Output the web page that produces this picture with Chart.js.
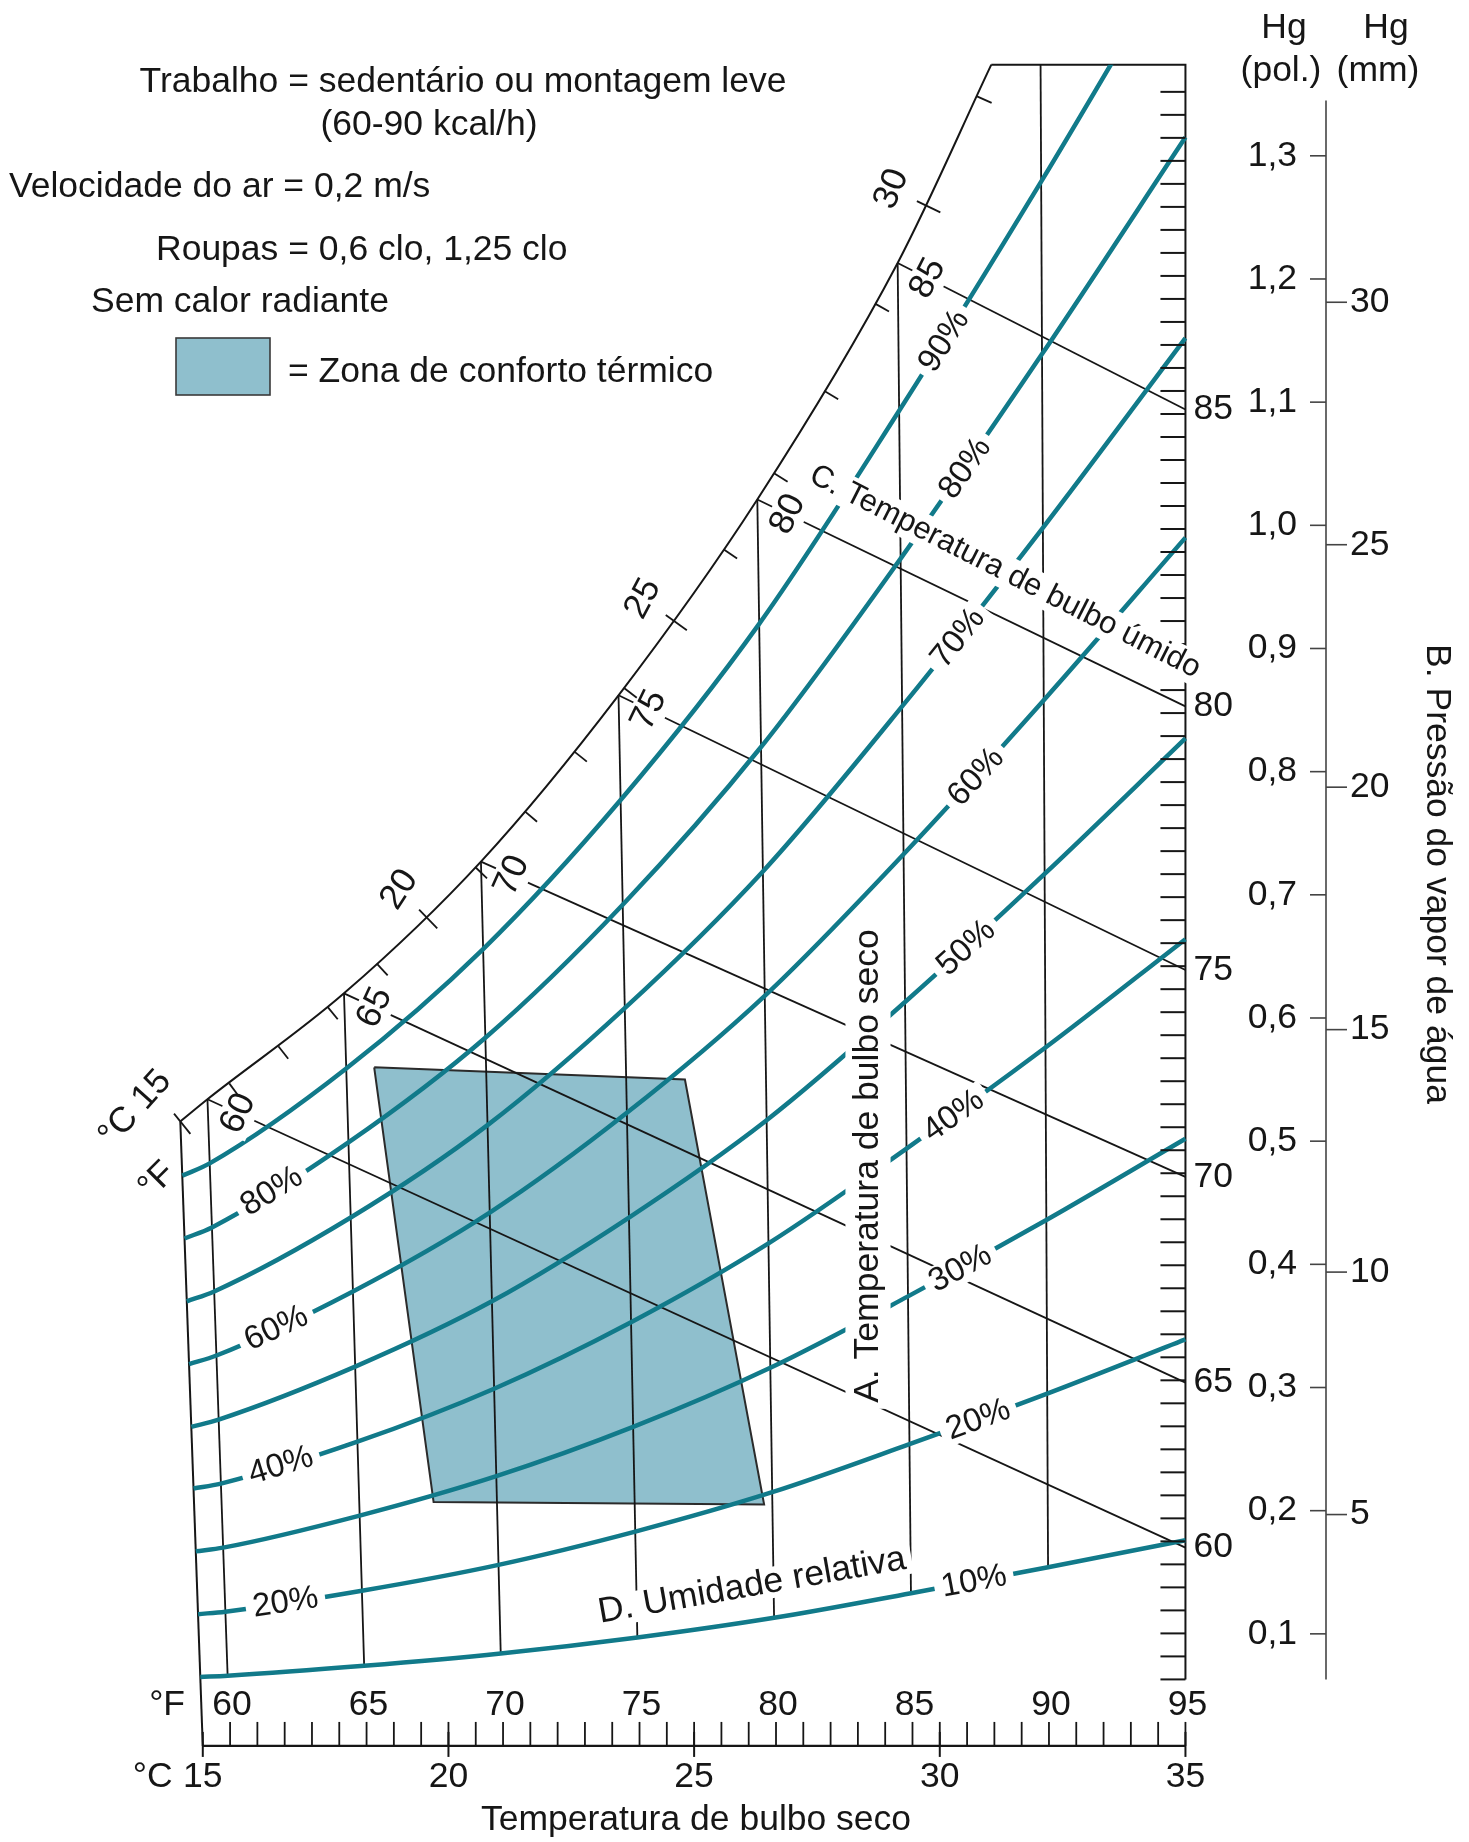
<!DOCTYPE html>
<html lang="pt-BR">
<head>
<meta charset="utf-8">
<title>Zona de conforto térmico</title>
<script src="https://cdn.jsdelivr.net/npm/chart.js@4.4.1/dist/chart.umd.min.js"></script>
<style>
  html, body { margin: 0; padding: 0; background: #ffffff; }
  #wrap { position: relative; width: 1469px; height: 1842px; }
</style>
</head>
<body>
<div id="wrap"><canvas id="chart"></canvas></div>
<script>
// ---------------------------------------------------------------------------
// Data
// ---------------------------------------------------------------------------

// Dry-bulb temperatures (°F) at which the humidity curves are tabulated
const dryBulbF = [59, 60, 65, 70, 75, 80, 85, 90, 95];

// Relative-humidity curves: water-vapour pressure (in Hg) at each dry-bulb temperature
const rh90 = [0.472, 0.482, 0.559, 0.656, 0.777, 0.920, 1.093, 1.279, 1.477];
const rh80 = [0.421, 0.430, 0.499, 0.584, 0.692, 0.820, 0.973, 1.139, 1.315];
const rh70 = [0.370, 0.378, 0.438, 0.513, 0.608, 0.719, 0.853, 0.998, 1.152];
const rh60 = [0.319, 0.326, 0.378, 0.442, 0.523, 0.618, 0.733, 0.858, 0.990];
const rh50 = [0.268, 0.274, 0.317, 0.370, 0.438, 0.517, 0.613, 0.717, 0.827];
const rh40 = [0.218, 0.222, 0.256, 0.299, 0.353, 0.417, 0.494, 0.576, 0.664];
const rh30 = [0.167, 0.170, 0.196, 0.228, 0.268, 0.316, 0.374, 0.436, 0.502];
const rh20 = [0.116, 0.118, 0.135, 0.156, 0.183, 0.215, 0.254, 0.295, 0.339];
const rh10 = [0.065, 0.066, 0.074, 0.084, 0.097, 0.113, 0.133, 0.154, 0.176];
const rhLevels = [90, 80, 70, 60, 50, 40, 30, 20, 10];
const rhCurves = [rh90, rh80, rh70, rh60, rh50, rh40, rh30, rh20, rh10];

// Saturation (100 %) curve, up to where it meets the top edge of the chart
const saturationF = [59, 60, 65, 70, 75, 80, 85, 88.3];
const saturationInHg = [0.516, 0.534, 0.620, 0.727, 0.862, 1.021, 1.213, 1.374];

// Dry-bulb grid lines (°F)
const dryBulbLinesF = [60, 65, 70, 75, 80, 85, 90];

// Wet-bulb lines (°F): start on the saturation curve, end on the 95 °F edge
const wetBulbF = [60, 65, 70, 75, 80, 85];
const wetBulbEdgeInHg = [0.170, 0.304, 0.471, 0.639, 0.853, 1.094];

// Thermal comfort zone (corners: dry bulb °F, vapour pressure in Hg)
const comfortF = [66.0, 77.1, 79.7, 67.7];
const comfortInHg = [0.560, 0.550, 0.205, 0.207];

// Axis ticks
const fahrenheitLabels = [60, 65, 70, 75, 80, 85, 90, 95];
const celsiusLabels = [15, 20, 25, 30, 35];
const hgInchTicks = [0.1, 0.2, 0.3, 0.4, 0.5, 0.6, 0.7, 0.8, 0.9, 1.0, 1.1, 1.2, 1.3];
const hgMmTicks = [5, 10, 15, 20, 25, 30];

// ---------------------------------------------------------------------------
// Layout and style
// ---------------------------------------------------------------------------
const W = 1469, H = 1842;
const X_MIN = 51.688, X_MAX = 105.36;     // °F across the canvas
const Y_MIN = -0.069, Y_MAX = 1.4265;     // in Hg down the canvas
const FRAME_TOP = 1.374;                  // top edge of the chart, in Hg
const EDGE_BOTTOM = 0.063;                // foot of the 95 °F edge
const EDGE_STEP = 0.01868;                // tick spacing along the 95 °F edge
const EDGE_TICKS = 69;
const RULER_INHG = 0.009;                 // level of the temperature ruler
const HG_AXIS_TOP = 1.345;
const LEAN = 0.045, LEAN_BASE = 0.069;    // dry-bulb lines lean toward the 95 °F edge

const INK = '#161616';
const TEAL = '#117a8a';
const ZONE_FILL = '#8fbfcd';
const FONT = '"Liberation Sans", Arial, Helvetica, sans-serif';
const DEG = Math.PI / 180;

// label placement along the humidity curves (dry bulb °F)
const rhLabelRightF = [86.6, 87.3, 87.0, 87.6, 87.2, 86.7, 86.9, 87.5, 87.3];
const rhLabelLeftLevels = [80, 60, 40, 20];
const rhLabelLeftF = 62.2;

// ---------------------------------------------------------------------------
// Helpers
// ---------------------------------------------------------------------------
function plotX(t, p) { return t - LEAN * (95 - t) * (p - LEAN_BASE); }
function pt(t, p) { return { x: plotX(t, p), y: p }; }

function interpLog(ts, ps, t) {
  let i = 0;
  while (i < ts.length - 2 && t > ts[i + 1]) i++;
  const f = (t - ts[i]) / (ts[i + 1] - ts[i]);
  return ps[i] * Math.pow(ps[i + 1] / ps[i], f);
}

function drawText(ctx, s, x, y, o = {}) {
  const size = o.size || 35.5;
  ctx.save();
  ctx.translate(x, y);
  ctx.rotate(o.angle || 0);
  ctx.font = `${size}px ${FONT}`;
  ctx.textAlign = o.align || 'center';
  ctx.textBaseline = o.baseline || 'middle';
  if (o.box) {
    const w = ctx.measureText(s).width;
    const h = size * 0.82;
    const padX = o.padX ?? 6, padY = o.padY ?? 3;
    const x0 = ctx.textAlign === 'center' ? -w / 2 : (ctx.textAlign === 'right' ? -w : 0);
    ctx.fillStyle = '#ffffff';
    ctx.fillRect(x0 - padX, -h / 2 - padY, w + 2 * padX, h + 2 * padY);
  }
  ctx.fillStyle = INK;
  ctx.fillText(s, 0, 0);
  ctx.restore();
}

function lineSet(data, color, width, extra) {
  return Object.assign({
    data, showLine: true, borderColor: color, borderWidth: width,
    pointRadius: 0, pointHoverRadius: 0, fill: false, tension: 0
  }, extra || {});
}

// ---------------------------------------------------------------------------
// Datasets
// ---------------------------------------------------------------------------
const clipTop = -((Y_MAX - FRAME_TOP) / (Y_MAX - Y_MIN)) * H;
const datasets = [];

// comfort zone outline (filled by the zoneFill plugin)
const zoneF = comfortF.concat([comfortF[0]]);
const zoneP = comfortInHg.concat([comfortInHg[0]]);
datasets.push(lineSet(zoneF.map((t, i) => pt(t, zoneP[i])), '#2b2b2b', 2, { label: 'Zona de conforto térmico', order: 6 }));

// 15 °C / 59 °F boundary down to the ruler
datasets.push(lineSet([pt(59, saturationInHg[0]), pt(59, RULER_INHG)], INK, 2, { order: 4 }));

// dry-bulb lines, from the 10 % curve up to saturation (or the top edge)
dryBulbLinesF.forEach(t => {
  const si = saturationF.indexOf(t);
  const top = si >= 0 ? saturationInHg[si] : FRAME_TOP;
  const bottom = rh10[dryBulbF.indexOf(t)];
  datasets.push(lineSet([pt(t, bottom), pt(t, top)], INK, 1.8, { order: 4 }));
});

// wet-bulb lines
wetBulbF.forEach((t, i) => {
  const start = saturationInHg[saturationF.indexOf(t)];
  datasets.push(lineSet([pt(t, start), pt(95, wetBulbEdgeInHg[i])], INK, 1.8, { order: 4 }));
});

// top edge and 95 °F edge
const satEndF = saturationF[saturationF.length - 1];
datasets.push(lineSet([pt(satEndF, FRAME_TOP), pt(95, FRAME_TOP), pt(95, EDGE_BOTTOM)], INK, 2, { order: 3 }));

// saturation curve
datasets.push(lineSet(saturationF.map((t, i) => pt(t, saturationInHg[i])), INK, 2,
  { order: 3, cubicInterpolationMode: 'monotone' }));

// relative humidity curves
rhCurves.forEach((arr, k) => {
  datasets.push(lineSet(dryBulbF.map((t, i) => pt(t, arr[i])), TEAL, 4.5, {
    label: rhLevels[k] + '%', order: 1, cubicInterpolationMode: 'monotone',
    clip: { left: false, right: false, bottom: false, top: clipTop }
  }));
});

// ---------------------------------------------------------------------------
// Plugins
// ---------------------------------------------------------------------------
const zoneFill = {
  id: 'zoneFill',
  beforeDraw(chart) {
    const ctx = chart.ctx;
    ctx.save();
    ctx.fillStyle = '#ffffff';
    ctx.fillRect(0, 0, chart.width, chart.height);
    ctx.restore();
  },
  beforeDatasetsDraw(chart) {
    const pts = chart.getDatasetMeta(0).data;
    const ctx = chart.ctx;
    ctx.save();
    ctx.beginPath();
    pts.forEach((e, i) => (i ? ctx.lineTo(e.x, e.y) : ctx.moveTo(e.x, e.y)));
    ctx.closePath();
    ctx.fillStyle = ZONE_FILL;
    ctx.fill();
    ctx.restore();
  }
};

const chartDecor = {
  id: 'chartDecor',
  afterDatasetsDraw(chart) {
    const ctx = chart.ctx;
    const xs = chart.scales.x, ys = chart.scales.y;
    const X = (t, p) => xs.getPixelForValue(plotX(t, p));
    const Y = p => ys.getPixelForValue(p);
    const seg = (x1, y1, x2, y2, w, c) => {
      ctx.save();
      ctx.strokeStyle = c || INK;
      ctx.lineWidth = w || 2;
      ctx.beginPath(); ctx.moveTo(x1, y1); ctx.lineTo(x2, y2); ctx.stroke();
      ctx.restore();
    };
    const satP = t => interpLog(saturationF, saturationInHg, t);

    // --- conditions block and legend ---
    drawText(ctx, 'Trabalho = sedentário ou montagem leve', 463, 92, { baseline: 'alphabetic' });
    drawText(ctx, '(60-90 kcal/h)', 429, 135, { baseline: 'alphabetic' });
    drawText(ctx, 'Velocidade do ar = 0,2 m/s', 9, 197, { align: 'left', baseline: 'alphabetic' });
    drawText(ctx, 'Roupas = 0,6 clo, 1,25 clo', 156, 260, { align: 'left', baseline: 'alphabetic' });
    drawText(ctx, 'Sem calor radiante', 91, 312, { align: 'left', baseline: 'alphabetic' });
    ctx.save();
    ctx.fillStyle = ZONE_FILL;
    ctx.fillRect(176, 338, 94, 57);
    ctx.strokeStyle = '#3a3a3a';
    ctx.lineWidth = 1.6;
    ctx.strokeRect(176, 338, 94, 57);
    ctx.restore();
    drawText(ctx, '= Zona de conforto térmico', 288, 382, { align: 'left', baseline: 'alphabetic' });

    // --- dry-bulb ruler under the chart ---
    const ry = Y(RULER_INHG);
    const xF = t => X(t, RULER_INHG);
    const xC = c => X(c * 1.8 + 32, RULER_INHG);
    seg(xC(15), ry, xC(35), ry, 2.2);
    for (let f = 60; f <= 95; f++) seg(xF(f), ry, xF(f), ry - 24, 1.8);
    celsiusLabels.forEach(c => seg(xC(c), ry - 14, xC(c), ry + 11, 2));
    fahrenheitLabels.forEach(f => drawText(ctx, String(f), xF(f) + 2, ry - 41));
    celsiusLabels.forEach(c => drawText(ctx, String(c), xC(c), ry + 31));
    drawText(ctx, '°F', xF(60) - 63, ry - 41);
    drawText(ctx, '°C', xC(15) - 50, ry + 31);
    drawText(ctx, 'Temperatura de bulbo seco', 696, ry + 74);

    // --- ruler on the 95 °F edge and wet-bulb end labels ---
    const ex = X(95, 0);
    for (let k = 0; k <= EDGE_TICKS; k++) {
      const y = Y(EDGE_BOTTOM + k * EDGE_STEP);
      seg(ex - 25, y, ex, y, 2);
    }
    wetBulbF.forEach((t, i) => drawText(ctx, String(t), ex + 8, Y(wetBulbEdgeInHg[i]), { align: 'left' }));

    // --- wet-bulb °F labels where the lines leave the saturation curve ---
    wetBulbF.forEach((t, i) => {
      const p0 = saturationInHg[saturationF.indexOf(t)];
      const x0 = X(t, p0), y0 = Y(p0);
      const x1 = X(95, wetBulbEdgeInHg[i]), y1 = Y(wetBulbEdgeInHg[i]);
      const L = Math.hypot(x1 - x0, y1 - y0);
      const ux = (x1 - x0) / L, uy = (y1 - y0) / L;
      drawText(ctx, String(t), x0 + ux * 34, y0 + uy * 34,
        { angle: Math.atan2(uy, ux) - Math.PI / 2, box: true, padX: 3, padY: 3 });
    });

    // --- wet-bulb °C ticks and labels along the saturation curve ---
    for (let c = 15; c <= 31; c++) {
      const t = c * 1.8 + 32;
      const p = satP(t);
      const x = X(t, p), y = Y(p);
      const ta = Math.max(saturationF[0], t - 0.4), tb = Math.min(satEndF, t + 0.4);
      const dx = X(tb, satP(tb)) - X(ta, satP(ta));
      const dy = Y(satP(tb)) - Y(satP(ta));
      const len = Math.hypot(dx, dy);
      const nx = -dy / len, ny = dx / len;
      const major = c % 5 === 0;
      const out = major ? 10 : 0;
      seg(x - nx * out, y - ny * out, x + nx * 16, y + ny * 16, 1.8);
      if (major && c > 15) {
        const tang = Math.atan2(dy, dx);
        drawText(ctx, String(c), x - nx * 38, y - ny * 38, { angle: tang * 0.5 - 35 * DEG });
      }
    }
    const cx = X(59, saturationInHg[0]), cy = Y(saturationInHg[0]);
    drawText(ctx, '°C 15', cx - 45, cy - 13, { angle: -48 * DEG });
    drawText(ctx, '°F', cx - 23, cy + 59, { angle: -45 * DEG });

    // --- vapour pressure scales (in Hg and mm Hg) ---
    const ax = 1326;
    seg(ax, Y(HG_AXIS_TOP), ax, Y(EDGE_BOTTOM), 1.6, '#444444');
    hgInchTicks.forEach(v => {
      const y = Y(v);
      seg(ax - 16, y, ax, y, 1.6, '#444444');
      drawText(ctx, v.toFixed(1).replace('.', ','), ax - 29, y, { align: 'right' });
    });
    hgMmTicks.forEach(mm => {
      const y = Y(mm / 25.4);
      seg(ax, y, ax + 21, y, 1.6, '#444444');
      drawText(ctx, String(mm), ax + 24, y, { align: 'left' });
    });
    drawText(ctx, 'Hg', 1284, 28);
    drawText(ctx, '(pol.)', 1281, 71);
    drawText(ctx, 'Hg', 1386, 28);
    drawText(ctx, '(mm)', 1378, 71);
    drawText(ctx, 'B. Pressão do vapor de água', 1437, 874, { angle: Math.PI / 2 });

    // --- axis captions inside the chart ---
    drawText(ctx, 'C. Temperatura de bulbo úmido', 1005, 572, { size: 31, angle: 27 * DEG, box: true, padX: 6, padY: 4 });
    drawText(ctx, 'A. Temperatura de bulbo seco', 868, 1166, { angle: -90 * DEG, box: true, padX: 6, padY: 8 });
    drawText(ctx, 'D. Umidade relativa', 752, 1586, { angle: -10 * DEG, box: true, padX: 6, padY: 1 });

    // --- relative humidity labels on the curves ---
    const placeRh = (arr, t, lvl) => {
      const p = interpLog(dryBulbF, arr, t);
      const pa = interpLog(dryBulbF, arr, t - 0.5), pb = interpLog(dryBulbF, arr, t + 0.5);
      const ang = Math.atan2(Y(pb) - Y(pa), X(t + 0.5, pb) - X(t - 0.5, pa));
      drawText(ctx, lvl + '%', X(t, p), Y(p), { size: 33, angle: ang, box: true, padX: 7, padY: 2 });
    };
    rhLevels.forEach((lvl, i) => placeRh(rhCurves[i], rhLabelRightF[i], lvl));
    rhLabelLeftLevels.forEach(lvl => placeRh(rhCurves[rhLevels.indexOf(lvl)], rhLabelLeftF, lvl));
  }
};

// ---------------------------------------------------------------------------
// Chart
// ---------------------------------------------------------------------------
new Chart(document.getElementById('chart'), {
  type: 'scatter',
  data: { datasets },
  options: {
    responsive: true,
    maintainAspectRatio: false,
    animation: false,
    events: [],
    layout: { padding: 0 },
    plugins: {
      legend: { display: false },
      tooltip: { enabled: false },
      title: { display: false }
    },
    scales: {
      x: { type: 'linear', min: X_MIN, max: X_MAX, display: false },
      y: { type: 'linear', min: Y_MIN, max: Y_MAX, display: false }
    }
  },
  plugins: [zoneFill, chartDecor]
});
</script>
</body>
</html>
